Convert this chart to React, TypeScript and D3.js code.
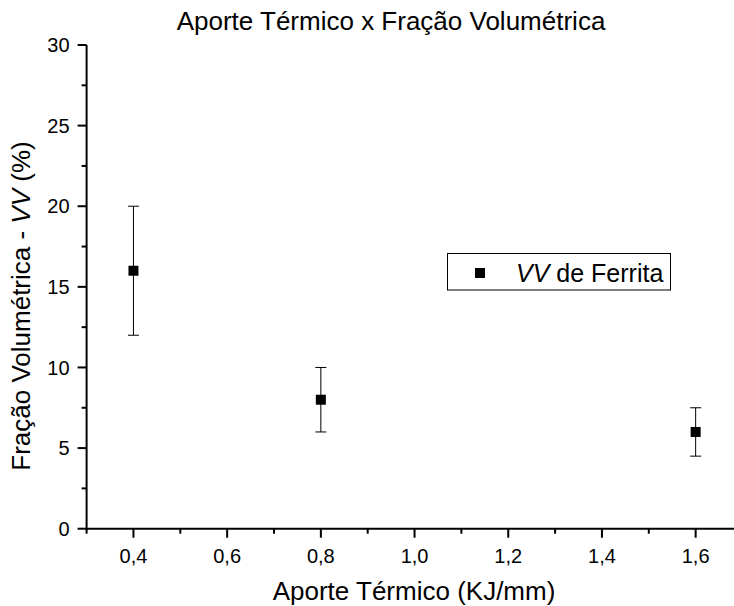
import React from "react";
import * as d3 from "d3";

// Heat input (KJ/mm) vs. ferrite volume fraction (%)
const heatInput = [0.4, 0.8, 1.6];
const ferriteVV = [16, 8, 6];
const errLow = [12, 6, 4.5];
const errHigh = [20, 10, 7.5];
const xTicks = [0.4, 0.6, 0.8, 1.0, 1.2, 1.4, 1.6];
const yTicks = [0, 5, 10, 15, 20, 25, 30];

const W = 734;
const H = 606;
const FONT = "'Liberation Sans', Arial, sans-serif";

export default function App() {
  const x = d3.scaleLinear().domain([0.3, 1.7]).range([86.6, 742.5]);
  const y = d3.scaleLinear().domain([0, 30]).range([528.7, 45]);
  const x0 = x(0.3);
  const y0 = y(0);
  const xMinor = d3.range(0.5, 1.71, 0.2);
  const yMinor = d3.range(2.5, 30, 5);
  const fmt = (v: number) => v.toFixed(1).replace(".", ",");
  const half = 5;
  const cap = 5.5;

  return (
    <svg
      width={W}
      height={H}
      style={{ position: "absolute", left: 0, top: 0, background: "#fff" }}
      fontFamily={FONT}
    >
      <rect width={W} height={H} fill="#fff" />
      <text x={391} y={30} textAnchor="middle" fontSize={26}>
        Aporte Térmico x Fração Volumétrica
      </text>

      {/* y axis */}
      <line x1={x0} x2={x0} y1={y(30)} y2={y0 + 1} stroke="#000" strokeWidth={2} />
      {yTicks.map((t) => (
        <g key={t}>
          <line x1={x0 - 9} x2={x0} y1={y(t)} y2={y(t)} stroke="#000" strokeWidth={2} />
          <text x={x0 - 17} y={y(t)} dy="0.36em" textAnchor="end" fontSize={20}>
            {t}
          </text>
        </g>
      ))}
      {yMinor.map((t) => (
        <line key={t} x1={x0 - 5} x2={x0} y1={y(t)} y2={y(t)} stroke="#000" strokeWidth={2} />
      ))}

      {/* x axis */}
      <line x1={x0 - 1} x2={x(1.7)} y1={y0} y2={y0} stroke="#000" strokeWidth={2} />
      {xTicks.map((t) => (
        <g key={t}>
          <line x1={x(t)} x2={x(t)} y1={y0} y2={y0 + 9} stroke="#000" strokeWidth={2} />
          <text x={x(t)} y={562.5} textAnchor="middle" fontSize={20}>
            {fmt(t)}
          </text>
        </g>
      ))}
      {[0.3, ...xMinor].map((t) => (
        <line key={t} x1={x(t)} x2={x(t)} y1={y0} y2={y0 + 5} stroke="#000" strokeWidth={2} />
      ))}

      <text x={414} y={600} textAnchor="middle" fontSize={26}>
        Aporte Térmico (KJ/mm)
      </text>
      <text
        transform={`translate(30, 306) rotate(-90)`}
        textAnchor="middle"
        fontSize={26}
      >
        Fração Volumétrica - <tspan fontStyle="italic">VV</tspan> (%)
      </text>

      {/* error bars and markers */}
      {heatInput.map((h, i) => (
        <g key={h}>
          <line x1={x(h)} x2={x(h)} y1={y(errLow[i])} y2={y(errHigh[i])} stroke="#000" strokeWidth={1} />
          <line x1={x(h) - cap} x2={x(h) + cap} y1={y(errLow[i])} y2={y(errLow[i])} stroke="#000" strokeWidth={1} />
          <line x1={x(h) - cap} x2={x(h) + cap} y1={y(errHigh[i])} y2={y(errHigh[i])} stroke="#000" strokeWidth={1} />
          <rect x={x(h) - half} y={y(ferriteVV[i]) - half} width={half * 2} height={half * 2} fill="#000" />
        </g>
      ))}

      {/* legend */}
      <rect x={447.5} y={253.5} width={223} height={36.5} fill="#fff" stroke="#000" strokeWidth={1} />
      <rect x={475} y={268} width={10} height={10} fill="#000" />
      <text x={516} y={281.5} fontSize={25}>
        <tspan fontStyle="italic">VV</tspan> de Ferrita
      </text>
    </svg>
  );
}
